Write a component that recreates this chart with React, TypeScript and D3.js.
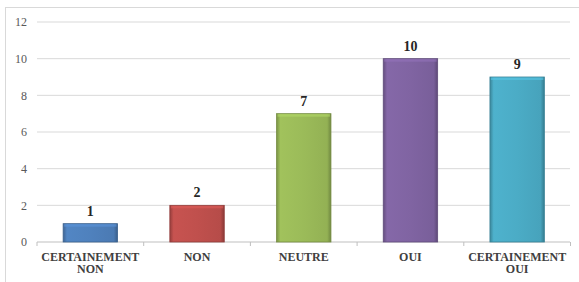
import React from "react";
import * as d3 from "d3";

const categories = [["CERTAINEMENT", "NON"], ["NON"], ["NEUTRE"], ["OUI"], ["CERTAINEMENT", "OUI"]];
const values = [1, 2, 7, 10, 9];
const colors = ["#4f81bd", "#c0504d", "#9bbb59", "#8064a2", "#4bacc6"];
const yTicks = [0, 2, 4, 6, 8, 10, 12];

const FONT = "'Liberation Serif', 'Times New Roman', Times, serif";

export default function App() {
  const W = 579, H = 282;
  const x = d3.scaleBand<number>().domain(d3.range(values.length)).range([37, 570.5]).paddingInner(0.49).paddingOuter(0.245);
  const y = d3.scaleLinear().domain([0, 12]).range([242, 22]);
  const bw = x.bandwidth();
  const step = x.step();
  const x0 = 37;
  return (
    <svg width={W} height={H} style={{ position: "absolute", left: 0, top: 0 }}>
      <defs>
        {colors.map((c, i) => {
          const col = d3.color(c)!;
          return (
            <linearGradient key={i} id={`g${i}`} x1="0" x2="1" y1="0" y2="0">
              <stop offset="0" stopColor={col.darker(0.7).toString()} />
              <stop offset="0.07" stopColor={col.brighter(0.1).toString()} />
              <stop offset="0.5" stopColor={col.toString()} />
              <stop offset="0.93" stopColor={col.darker(0.15).toString()} />
              <stop offset="1" stopColor={col.darker(0.9).toString()} />
            </linearGradient>
          );
        })}
      </defs>
      <rect x={5.5} y={7.5} width={W + 10} height={H + 10} fill="white" stroke="#d9d9d9" />
      {yTicks.map((t) => (
        <g key={t}>
          {t > 0 && <line x1={x0} x2={570} y1={y(t)} y2={y(t)} stroke="#d9d9d9" strokeWidth={1} />}
          <text x={27} y={y(t)} dy="0.35em" textAnchor="end" fontFamily={FONT} fontSize={12} fill="#595959">{t}</text>
        </g>
      ))}
      <line x1={x0} x2={570} y1={y(0)} y2={y(0)} stroke="#bfbfbf" />
      {d3.range(values.length + 1).map((i) => (
        <line key={i} x1={x0 + i * step} x2={x0 + i * step} y1={y(0)} y2={y(0) + 4} stroke="#bfbfbf" />
      ))}
      {values.map((v, i) => {
        const bx = x(i)!;
        const by = y(v);
        const bh = y(0) - by;
        const col = d3.color(colors[i])!;
        return (
          <g key={i}>
            <rect x={bx} y={by} width={bw} height={bh} fill={`url(#g${i})`} stroke={col.darker(0.8).toString()} strokeWidth={0.8} />
            <rect x={bx + 1} y={by + 0.5} width={bw - 2} height={2.5} fill={col.brighter(0.4).toString()} opacity={0.6} />
          </g>
        );
      })}
      {values.map((v, i) => (
        <text key={i} x={x(i)! + bw / 2} y={y(v) - 13} dy="0.35em" textAnchor="middle" fontFamily={FONT} fontWeight="bold" fontSize={14} fill="#262626">{v}</text>
      ))}
      {categories.map((lines, i) =>
        lines.map((l, j) => (
          <text key={`${i}-${j}`} x={x(i)! + bw / 2} y={256.5 + j * 12.5} dy="0.35em" textAnchor="middle" fontFamily={FONT} fontWeight="bold" fontSize={12} fill="#404040">{l}</text>
        ))
      )}
    </svg>
  );
}
